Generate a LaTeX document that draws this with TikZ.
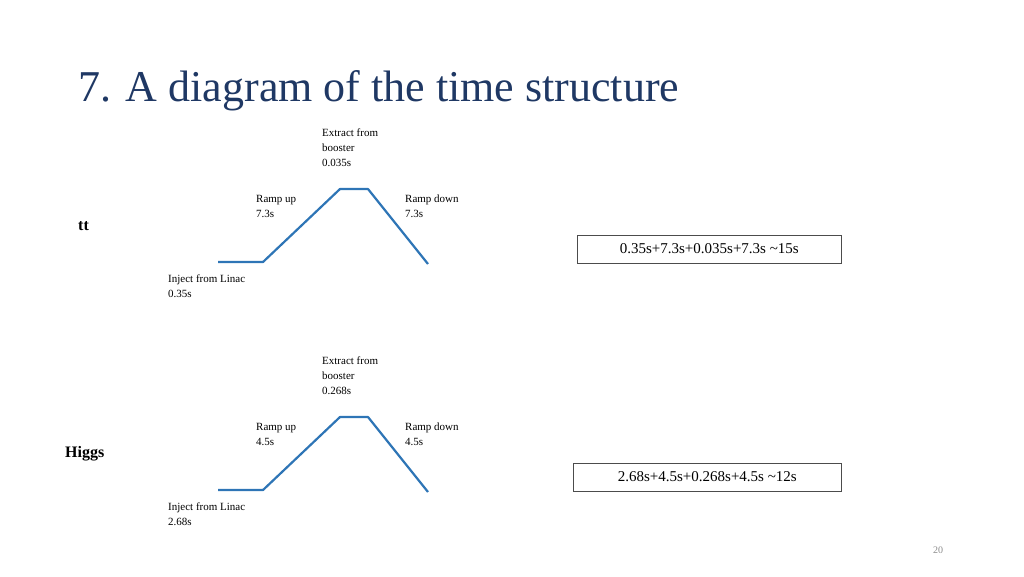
\documentclass[tikz,border=0pt]{standalone}
\usepackage{fontspec}
\setmainfont{Liberation Serif}
\definecolor{titleblue}{HTML}{1F3864}
\definecolor{lineblue}{HTML}{2E75B6}
\begin{document}
\begin{tikzpicture}[x=1pt,y=-1pt,
  lbl/.style={anchor=west,align=left,inner sep=0pt,font=\fontsize{11}{15}\selectfont},
  trap/.style={draw=lineblue,line width=2.2pt,line join=round},
  sumbox/.style={draw=black!70,line width=0.6pt,anchor=west,inner sep=5pt,font=\fontsize{15}{18}\selectfont,minimum height=28pt}]
\useasboundingbox (0,0) rectangle (1024,576);
\node[anchor=base west,inner sep=0pt,text=titleblue,font=\fontsize{44}{50}\selectfont] (title) at (78,101) {7. A diagram of the time structure};
\foreach \dy/\nm/\ex/\ru/\inj/\sm/\bx/\lab in {0/a/0.035s/7.3s/0.35s/{0.35s+7.3s+0.035s+7.3s \textasciitilde15s}/577/tt,228/b/0.268s/4.5s/2.68s/{2.68s+4.5s+0.268s+4.5s \textasciitilde12s}/573/Higgs}{
  \node[lbl,anchor=north west] (ex\nm) at (322,\dy+129) {Extract from\\booster\\\ex};
  \node[lbl,anchor=north west] (ru\nm) at (256,\dy+195) {Ramp up\\\ru};
  \node[lbl,anchor=north west] (rd\nm) at (405,\dy+195) {Ramp down\\\ru};
  \node[lbl,anchor=north west] (in\nm) at (168,\dy+275) {Inject from Linac\\\inj};
  \draw[trap] (218,\dy+262) -- (263,\dy+262) -- (340,\dy+189) -- (368,\dy+189) -- (428,\dy+264);
  \node[sumbox,minimum width=841-\bx] (sum\nm) at (\bx,\dy+249) {\sm};
}
\node[anchor=west,inner sep=0pt,font=\bfseries\fontsize{16}{18}\selectfont] (tt) at (78,226) {tt};
\node[anchor=west,inner sep=0pt,font=\bfseries\fontsize{16}{18}\selectfont] (higgs) at (65,454) {Higgs};
\node[anchor=center,inner sep=0pt,text=black!45,font=\fontsize{10}{12}\selectfont] (pg) at (938,550) {20};
\end{tikzpicture}
\end{document}
